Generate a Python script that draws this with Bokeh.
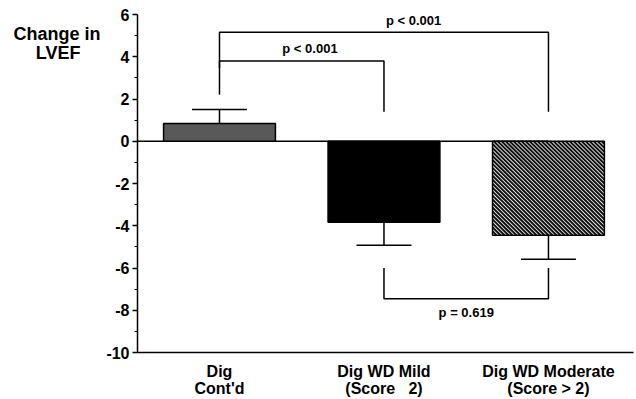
import numpy as np
from bokeh.plotting import figure
from bokeh.models import Range1d, FixedTicker, LinearAxis
from bokeh.core.properties import value
from bokeh.embed import file_html
from bokeh.resources import INLINE

NB = "\u00a0"

# ---- data ----
groups = ["Dig\nCont'd",
          "Dig WD Mild\n(Score" + NB * 3 + "2)",
          "Dig WD Moderate\n(Score > 2)"]
means = [0.84, -3.84, -4.45]
errors = [0.66, 1.08, 1.13]
y_ticks = [-10, -8, -6, -4, -2, 0, 2, 4, 6]
y_minor = [-9, -7, -5, -3, -1, 1, 3, 5]
y_title = "Change in\nLVEF" + NB * 4
y_title_pos = 4.62

# comparisons: (group a, group b), bracket level, leg ends, p text and its position
comp_a = [0, 0, 1]
comp_b = [1, 2, 2]
bracket_level = [3.8, 5.16, -7.45]
leg_end_a = [2.2, 3.47, -6.0]
leg_end_b = [1.4, 1.4, -6.0]
p_texts = ["p < 0.001", "p < 0.001", "p = 0.619"]
p_text_x = [0.55, 1.18, 1.5]
p_text_y = [4.41, 5.72, -8.1]

FONT = "Liberation Sans"
BAR_W = 0.68
W, H = 636, 399
ML, MR, MT, MB = 137, 3, 14, 44
XR = (-0.4985, 2.517)
YR = (-10, 6)

xs = list(range(len(groups)))

p = figure(width=W, height=H,
           x_range=Range1d(*XR), y_range=Range1d(*YR),
           output_backend="svg", toolbar_location=None,
           min_border_left=ML, min_border_right=MR,
           min_border_top=MT, min_border_bottom=MB)
p.xgrid.visible = False
p.ygrid.visible = False
p.outline_line_color = None
p.background_fill_color = "white"
p.border_fill_color = "white"

# y axis
p.yaxis.ticker = FixedTicker(ticks=y_ticks, minor_ticks=y_minor)
p.yaxis.major_label_overrides = {t: str(t) for t in y_ticks}
p.yaxis.major_label_text_font = FONT
p.yaxis.major_label_text_font_style = "bold"
p.yaxis.major_label_text_font_size = "16px"
p.yaxis.major_label_text_color = "black"
p.yaxis.major_tick_out = 5
p.yaxis.major_tick_in = 0
p.yaxis.minor_tick_out = 3
p.yaxis.minor_tick_in = 0
p.yaxis.axis_line_width = 1.5
p.yaxis.major_tick_line_width = 1.5
p.yaxis.major_label_standoff = 3

# y title as a horizontal label on an extra left axis
tax = LinearAxis(ticker=FixedTicker(ticks=[y_title_pos]),
                 major_label_overrides={y_title_pos: y_title},
                 axis_line_color=None, major_tick_line_color=None,
                 minor_tick_line_color=None, major_tick_out=0, major_tick_in=0,
                 major_label_text_font=FONT, major_label_text_font_style="bold",
                 major_label_text_font_size="18px", major_label_text_color="black",
                 major_label_text_line_height=0.95,
                 major_label_standoff=3)
p.add_layout(tax, "left")

# x axis with category labels
p.xaxis.ticker = FixedTicker(ticks=xs)
p.xaxis.major_label_overrides = {x: g for x, g in zip(xs, groups)}
p.xaxis.major_tick_line_color = None
p.xaxis.major_tick_out = 0
p.xaxis.major_tick_in = 0
p.xaxis.minor_tick_line_color = None
p.xaxis.axis_line_width = 1.5
p.xaxis.major_label_text_font = FONT
p.xaxis.major_label_text_font_style = "bold"
p.xaxis.major_label_text_font_size = "16px"
p.xaxis.major_label_text_color = "black"
p.xaxis.major_label_text_line_height = 1.0
p.xaxis.major_label_standoff = 10

# zero line
p.segment(x0=[p.x_range.start], y0=[0], x1=[xs[-1]], y1=[0], line_color="black", line_width=1.5)

# bar fills
bar_fills = ["#595959", "black", "white"]
p.vbar(x=xs, top=means, bottom=0, width=BAR_W, fill_color=bar_fills, line_color=None)

# diagonal stripe texture for the third bar ("\" direction), computed in pixel space
sx = (W - ML - MR) / (XR[1] - XR[0])
sy = (H - MT - MB) / (YR[1] - YR[0])
bx, bm = xs[2], means[2]
L, R = (bx - BAR_W / 2) * sx, (bx + BAR_W / 2) * sx
T, B = -max(bm, 0) * sy, -min(bm, 0) * sy
sx0, sy0, sx1, sy1 = [], [], [], []
for c in np.arange(L - B, R - T, 4.0):
    lo, hi = max(T, L - c), min(B, R - c)
    if hi > lo:
        sx0.append((lo + c) / sx); sy0.append(-lo / sy)
        sx1.append((hi + c) / sx); sy1.append(-hi / sy)
p.segment(x0=sx0, y0=sy0, x1=sx1, y1=sy1, line_color="#111111", line_width=2.0)

# bar outlines
p.vbar(x=xs, top=means, bottom=0, width=BAR_W, fill_color=None, line_color="black", line_width=1.5)

# error bars (one-sided)
tips = [m + (e if m >= 0 else -e) for m, e in zip(means, errors)]
p.segment(x0=xs, y0=means, x1=xs, y1=tips, line_color="black", line_width=1.5)
cap = 0.167
p.segment(x0=[x - cap for x in xs], y0=tips, x1=[x + cap for x in xs], y1=tips,
          line_color="black", line_width=1.5)

# brackets
for a, b, lvl, ea, eb in zip(comp_a, comp_b, bracket_level, leg_end_a, leg_end_b):
    p.line(x=[a, a, b, b], y=[ea, lvl, lvl, eb], line_color="black", line_width=1.5)

p.text(x=p_text_x, y=p_text_y, text=p_texts, text_font=value(FONT),
       text_font_style="bold", text_font_size="13px",
       text_align="center", text_baseline="middle", text_color="black")

open("out.html", "w").write(file_html(p, INLINE))
